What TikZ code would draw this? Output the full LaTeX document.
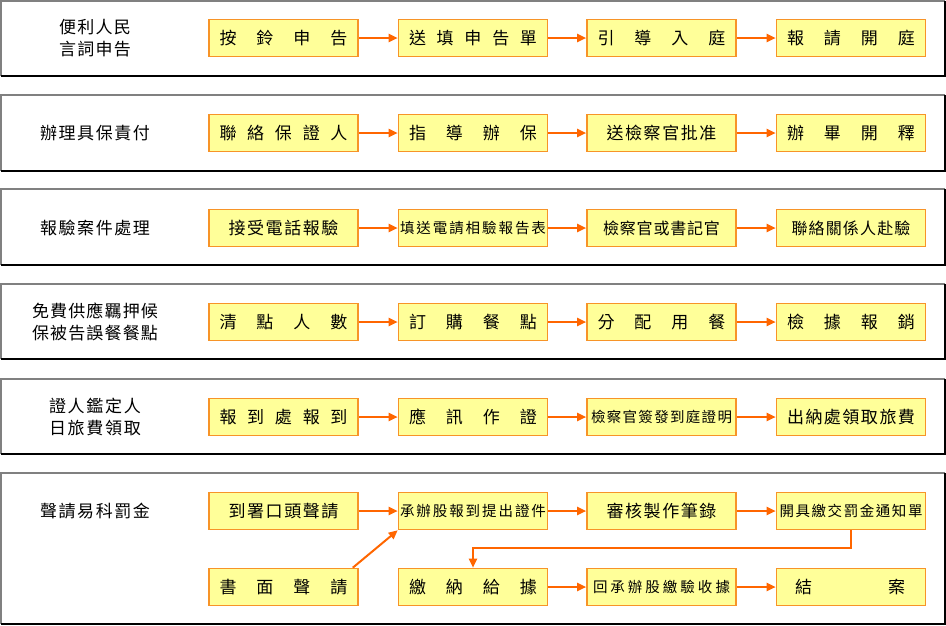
\documentclass[tikz,border=0pt]{standalone}
\usepackage{fontspec}
\newfontfamily\cjk{Noto Sans CJK TC}
\usetikzlibrary{arrows.meta}
\definecolor{boxfill}{RGB}{255,255,153}
\definecolor{boxline}{RGB}{247,148,40}
\definecolor{arrcol}{RGB}{255,102,0}
\definecolor{panelgray}{RGB}{128,128,128}
\def\spreadA#1{\ifx#1\relax\else#1\expandafter\spreadB\fi}
\def\spreadB#1{\ifx#1\relax\else\hfill#1\expandafter\spreadB\fi}
\newcommand\sptext[2]{\makebox[#1][s]{\spreadA#2\relax}}
\tikzset{
  stepbox/.style={draw=boxline, fill=boxfill, line width=1.6pt, minimum width=149pt,
    minimum height=37pt, inner sep=0pt, font=\cjk\fontsize{17}{20}\selectfont},
  smalltext/.style={font=\cjk\fontsize{14.5}{17}\selectfont},
  midtext/.style={font=\cjk\fontsize{16}{19}\selectfont},
  lbl/.style={font=\cjk\fontsize{17}{22}\selectfont, align=center, inner sep=0pt},
  arr/.style={draw=arrcol, line width=2pt, -{Triangle[length=9pt,width=8pt]}},
  pedge/.style={line width=1.5pt}
}
\begin{document}
\begin{tikzpicture}[x=1pt,y=-1pt]
\useasboundingbox (0,0) rectangle (946,625);
% panels
\foreach \t/\b in {1/76,95/171,189/265,284/359,379/454,473/624}{
  \draw[panelgray,pedge] (1,\b) -- (1,\t) -- (945,\t);
  \draw[black,pedge] (945,\t) -- (945,\b) -- (1,\b);
}
% left labels
\node[lbl] (l1) at (95,38.5) {\sptext{72pt}{便利人民}\\\sptext{72pt}{言詞申告}};
\node[lbl] (l2) at (95,133) {\sptext{110pt}{辦理具保責付}};
\node[lbl] (l3) at (95,227.5) {\sptext{110pt}{報驗案件處理}};
\node[lbl] (l4) at (95,322) {\sptext{126pt}{免費供應羈押候}\\\sptext{126pt}{保被告誤餐餐點}};
\node[lbl] (l5) at (95,416.5) {\sptext{92pt}{證人鑑定人}\\\sptext{92pt}{日旅費領取}};
\node[lbl] (l6) at (95,511) {\sptext{110pt}{聲請易科罰金}};
% row 1
\node[stepbox] (r1c1) at (283.5,38) {\sptext{128pt}{按鈴申告}};
\node[stepbox] (r1c2) at (473,38) {\sptext{128pt}{送填申告單}};
\node[stepbox] (r1c3) at (661.5,38) {\sptext{128pt}{引導入庭}};
\node[stepbox] (r1c4) at (851,38) {\sptext{128pt}{報請開庭}};
% row 2
\node[stepbox] (r2c1) at (283.5,133) {\sptext{128pt}{聯絡保證人}};
\node[stepbox] (r2c2) at (473,133) {\sptext{128pt}{指導辦保}};
\node[stepbox] (r2c3) at (661.5,133) {\sptext{110pt}{送檢察官批准}};
\node[stepbox] (r2c4) at (851,133) {\sptext{128pt}{辦畢開釋}};
% row 3
\node[stepbox] (r3c1) at (283.5,228) {\sptext{110pt}{接受電話報驗}};
\node[stepbox,smalltext] (r3c2) at (473,228) {\sptext{146pt}{填送電請相驗報告表}};
\node[stepbox,midtext] (r3c3) at (661.5,228) {\sptext{117pt}{檢察官或書記官}};
\node[stepbox,midtext] (r3c4) at (851,228) {\sptext{119pt}{聯絡關係人赴驗}};
% row 4
\node[stepbox] (r4c1) at (283.5,322) {\sptext{128pt}{清點人數}};
\node[stepbox] (r4c2) at (473,322) {\sptext{128pt}{訂購餐點}};
\node[stepbox] (r4c3) at (661.5,322) {\sptext{128pt}{分配用餐}};
\node[stepbox] (r4c4) at (851,322) {\sptext{128pt}{檢據報銷}};
% row 5
\node[stepbox] (r5c1) at (283.5,417) {\sptext{128pt}{報到處報到}};
\node[stepbox] (r5c2) at (473,417) {\sptext{128pt}{應訊作證}};
\node[stepbox,smalltext] (r5c3) at (661.5,417) {\sptext{141pt}{檢察官簽發到庭證明}};
\node[stepbox] (r5c4) at (851,417) {\sptext{128pt}{出納處領取旅費}};
% row 6
\node[stepbox] (r6c1) at (283.5,511) {\sptext{110pt}{到署口頭聲請}};
\node[stepbox,smalltext] (r6c2) at (473,511) {\sptext{146pt}{承辦股報到提出證件}};
\node[stepbox] (r6c3) at (661.5,511) {\sptext{110pt}{審核製作筆錄}};
\node[stepbox,smalltext] (r6c4) at (851,511) {\sptext{143pt}{開具繳交罰金通知單}};
% row 7
\node[stepbox] (r7c1) at (283.5,587) {\sptext{128pt}{書面聲請}};
\node[stepbox] (r7c2) at (473,587) {\sptext{128pt}{繳納給據}};
\node[stepbox,smalltext] (r7c3) at (661.5,587) {\sptext{137pt}{回承辦股繳驗收據}};
\node[stepbox] (r7c4) at (851,587) {\hspace*{-2pt}\sptext{110pt}{結案}};
% arrows
\foreach \r in {1,2,3,4,5,6}{
  \draw[arr] (r\r c1) -- (r\r c2);
  \draw[arr] (r\r c2) -- (r\r c3);
  \draw[arr] (r\r c3) -- (r\r c4);
}
\draw[arr] (r7c2) -- (r7c3);
\draw[arr] (r7c3) -- (r7c4);
\draw[arr] ([xshift=-6pt]r7c1.north east) -- (r6c2.south west);
\draw[arr] (r6c4.south) -- ++(0,18) -| (r7c2.north);
\end{tikzpicture}
\end{document}
